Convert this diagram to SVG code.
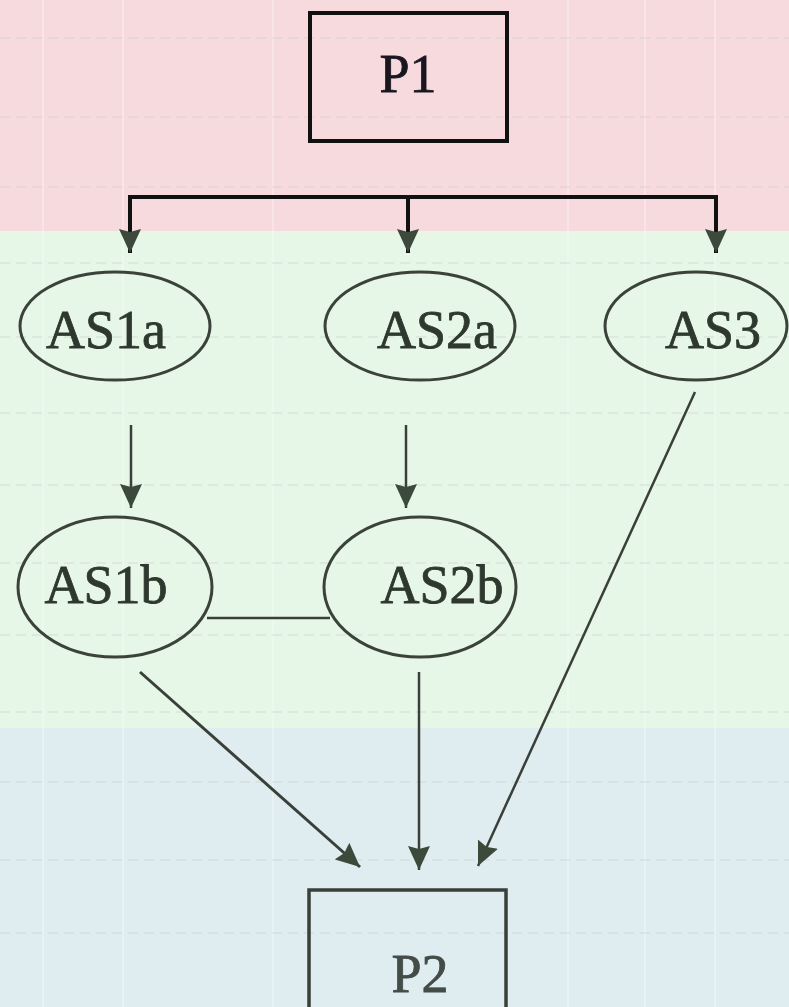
<svg xmlns="http://www.w3.org/2000/svg" width="789" height="1007" viewBox="0 0 789 1007">
<style>
.box{fill:none;stroke:#111;stroke-width:4}
.box2{fill:none;stroke:#3a3f3a;stroke-width:3.5}
.ell{fill:none;stroke:#3a423a;stroke-width:3}
.lbl{font-family:"Liberation Serif","Times New Roman",serif;font-size:54px;fill:#2e382e;stroke:#2e382e;stroke-width:0.8;text-anchor:middle}
.bar{stroke:#111;stroke-width:4;fill:none}
.edge{stroke:#3a3f3a;stroke-width:2.5;fill:none}
.grid{stroke:#ffffff;stroke-opacity:0.3;stroke-width:2}
.gridh{stroke:#c8d0cc;stroke-opacity:0.35;stroke-width:2;stroke-dasharray:10 6}
</style>
<defs>
<marker id="ah" markerUnits="userSpaceOnUse" markerWidth="24" markerHeight="22" refX="24" refY="11" orient="auto" viewBox="0 0 24 22">
<path d="M0,0 L24,11 L0,22 L3,11 z" fill="#3c4a3c"/>
</marker>
</defs>
<g id="background">
<rect x="0" y="0" width="789" height="231" fill="#f6dadd"/>
<rect x="0" y="231" width="789" height="497" fill="#e7f7e7"/>
<rect x="0" y="728" width="789" height="279" fill="#dfedf0"/>
<g class="grid">
<line x1="43" y1="0" x2="43" y2="1007"/>
<line x1="123" y1="0" x2="123" y2="1007"/>
<line x1="273" y1="0" x2="273" y2="1007"/>
<line x1="568" y1="0" x2="568" y2="1007"/>
<line x1="645" y1="0" x2="645" y2="1007"/>
<line x1="715" y1="0" x2="715" y2="1007"/>
</g>
<g class="gridh">
<line x1="0" y1="38" x2="789" y2="38"/>
<line x1="0" y1="117" x2="789" y2="117"/>
<line x1="0" y1="187" x2="789" y2="187"/>
<line x1="0" y1="263" x2="789" y2="263"/>
<line x1="0" y1="337" x2="789" y2="337"/>
<line x1="0" y1="413" x2="789" y2="413"/>
<line x1="0" y1="485" x2="789" y2="485"/>
<line x1="0" y1="563" x2="789" y2="563"/>
<line x1="0" y1="635" x2="789" y2="635"/>
<line x1="0" y1="712" x2="789" y2="712"/>
<line x1="0" y1="782" x2="789" y2="782"/>
<line x1="0" y1="860" x2="789" y2="860"/>
<line x1="0" y1="933" x2="789" y2="933"/>
</g>
</g>
<g id="connectors">
<polyline class="bar" points="130,253 130,197 716,197 716,253"/>
<line class="bar" x1="130" y1="197" x2="130" y2="253" marker-end="url(#ah)"/>
<line class="bar" x1="408" y1="197" x2="408" y2="253" marker-end="url(#ah)"/>
<line class="bar" x1="716" y1="197" x2="716" y2="253" marker-end="url(#ah)"/>
<line class="edge" x1="131" y1="425" x2="131" y2="508" marker-end="url(#ah)"/>
<line class="edge" x1="406" y1="425" x2="406" y2="508" marker-end="url(#ah)"/>
<line class="edge" x1="207" y1="618" x2="330" y2="618"/>
<line class="edge" x1="140" y1="672" x2="360" y2="867" marker-end="url(#ah)" style="stroke-width:3"/>
<line class="edge" x1="419" y1="672" x2="419" y2="870" marker-end="url(#ah)"/>
<line class="edge" x1="695" y1="392" x2="478" y2="866" marker-end="url(#ah)"/>
</g>
<g id="P1">
<rect class="box" x="310" y="13" width="197" height="128"/>
<text class="lbl" x="408" y="92" style="fill:#1a1620;stroke:#1a1620">P1</text>
</g>
<g id="AS1a">
<ellipse class="ell" cx="115" cy="326" rx="95" ry="54"/>
<text class="lbl" x="106" y="348">AS1a</text>
</g>
<g id="AS2a">
<ellipse class="ell" cx="420" cy="326" rx="95" ry="54"/>
<text class="lbl" x="437" y="348">AS2a</text>
</g>
<g id="AS3">
<ellipse class="ell" cx="696" cy="326" rx="91" ry="54"/>
<text class="lbl" x="713" y="348">AS3</text>
</g>
<g id="AS1b">
<ellipse class="ell" cx="115" cy="587" rx="97" ry="70"/>
<text class="lbl" x="106" y="603">AS1b</text>
</g>
<g id="AS2b">
<ellipse class="ell" cx="420" cy="587" rx="96" ry="70"/>
<text class="lbl" x="442" y="603">AS2b</text>
</g>
<g id="P2">
<rect class="box2" x="309" y="890" width="197" height="130"/>
<text class="lbl" x="420" y="992" style="fill:#444c48;stroke:#444c48">P2</text>
</g>
</svg>
